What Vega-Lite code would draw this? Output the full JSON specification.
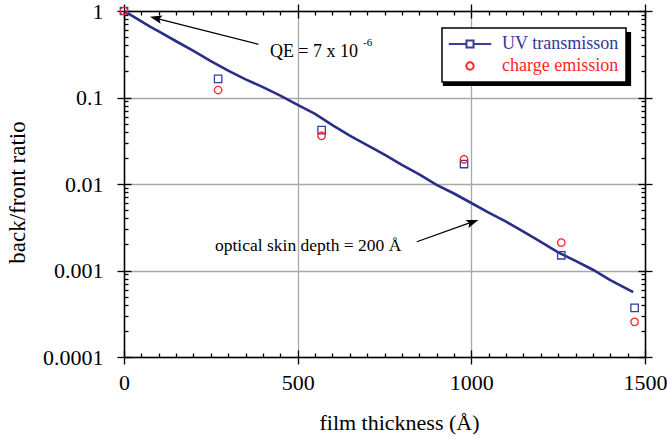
{
  "$schema": "https://vega.github.io/schema/vega-lite/v6.json",
  "width": 521,
  "height": 346,
  "autosize": {"type": "none"},
  "padding": {"left": 124, "top": 11, "right": 22, "bottom": 81},
  "background": "white",
  "config": {
    "font": "Liberation Serif",
    "view": {"stroke": null},
    "axis": {
      "labelFont": "Liberation Serif",
      "titleFont": "Liberation Serif",
      "domainColor": "black",
      "tickColor": "black",
      "labelColor": "black",
      "titleColor": "black",
      "titleFontWeight": "normal",
      "labelFlush": false,
      "labelOverlap": false,
      "domainWidth": 1.5,
      "tickWidth": 1.3,
      "grid": false
    },
    "legend": {"labelFont": "Liberation Serif", "strokeWidth": 1.5}
  },
  "datasets": {
    "curve": [
      {"thickness": 0, "ratio": 1},
      {"thickness": 25, "ratio": 0.871},
      {"thickness": 50, "ratio": 0.759},
      {"thickness": 75, "ratio": 0.661},
      {"thickness": 100, "ratio": 0.582},
      {"thickness": 150, "ratio": 0.447},
      {"thickness": 200, "ratio": 0.347},
      {"thickness": 250, "ratio": 0.263},
      {"thickness": 300, "ratio": 0.204},
      {"thickness": 350, "ratio": 0.162},
      {"thickness": 400, "ratio": 0.132},
      {"thickness": 450, "ratio": 0.105},
      {"thickness": 500, "ratio": 0.0822},
      {"thickness": 550, "ratio": 0.0646},
      {"thickness": 600, "ratio": 0.0479},
      {"thickness": 650, "ratio": 0.0363},
      {"thickness": 700, "ratio": 0.0282},
      {"thickness": 750, "ratio": 0.0219},
      {"thickness": 800, "ratio": 0.0166},
      {"thickness": 850, "ratio": 0.0129},
      {"thickness": 900, "ratio": 0.00977},
      {"thickness": 950, "ratio": 0.00776},
      {"thickness": 1000, "ratio": 0.00603},
      {"thickness": 1050, "ratio": 0.00468},
      {"thickness": 1100, "ratio": 0.00367},
      {"thickness": 1150, "ratio": 0.00282},
      {"thickness": 1200, "ratio": 0.00214},
      {"thickness": 1250, "ratio": 0.00162},
      {"thickness": 1300, "ratio": 0.00129},
      {"thickness": 1350, "ratio": 0.00102},
      {"thickness": 1400, "ratio": 0.000776},
      {"thickness": 1466, "ratio": 0.000562}
    ],
    "points": [
      {"thickness": 0, "ratio": 1, "series": "UV transmisson", "kind": "UV"},
      {"thickness": 271, "ratio": 0.164, "series": "UV transmisson", "kind": "UV"},
      {"thickness": 569, "ratio": 0.042, "series": "UV transmisson", "kind": "UV"},
      {"thickness": 979, "ratio": 0.017, "series": "UV transmisson", "kind": "UV"},
      {"thickness": 1259, "ratio": 0.0015, "series": "UV transmisson", "kind": "UV"},
      {"thickness": 1470, "ratio": 0.00037, "series": "UV transmisson", "kind": "UV"},
      {"thickness": 0, "ratio": 1, "series": "charge emission", "kind": "charge"},
      {"thickness": 271, "ratio": 0.122, "series": "charge emission", "kind": "charge"},
      {"thickness": 569, "ratio": 0.036, "series": "charge emission", "kind": "charge"},
      {"thickness": 979, "ratio": 0.0193, "series": "charge emission", "kind": "charge"},
      {"thickness": 1259, "ratio": 0.0021, "series": "charge emission", "kind": "charge"},
      {"thickness": 1470, "ratio": 0.000255, "series": "charge emission", "kind": "charge"}
    ]
  },
  "resolve": {"axis": {"x": "independent", "y": "independent"}},
  "layer": [
    {
      "data": {"values": [{}]},
      "mark": {"type": "rect", "color": "black"},
      "encoding": {
        "x": {"datum": 918, "type": "quantitative", "scale": {"type": "linear", "domain": [0, 1500], "nice": false, "zero": false}, "axis": null},
        "x2": {"datum": 1460},
        "y": {"datum": 0.572, "type": "quantitative", "scale": {"type": "log", "domain": [0.0001, 1], "nice": false}, "axis": null},
        "y2": {"datum": 0.136}
      }
    },
    {
      "data": {"name": "curve"},
      "mark": {"type": "line", "color": "#2b2e86", "strokeWidth": 2.6},
      "encoding": {
        "x": {
          "field": "thickness", "type": "quantitative",
          "scale": {"type": "linear", "domain": [0, 1500], "nice": false, "zero": false},
          "axis": {
            "orient": "bottom", "values": [0, 500, 1000, 1500], "format": "d",
            "tickSize": 7, "grid": true, "gridColor": "#a8a8a8", "gridWidth": 1.3, "gridOpacity": 1,
            "labelFont": "Liberation Serif", "labelFontSize": 22, "labelPadding": 8,
            "title": "film thickness (Å)", "titleFont": "Liberation Serif", "titleFontSize": 22, "titlePadding": 19, "titleX": 275
          }
        },
        "y": {
          "field": "ratio", "type": "quantitative",
          "scale": {"type": "log", "domain": [0.0001, 1], "nice": false},
          "axis": {
            "orient": "left", "values": [1, 0.1, 0.01, 0.001, 0.0001], "format": "~g",
            "tickSize": 7, "grid": true, "gridColor": "#a8a8a8", "gridWidth": 1.3, "gridOpacity": 1,
            "labelFont": "Liberation Serif", "labelFontSize": 22, "labelPadding": 14,
            "title": "back/front ratio", "titleFont": "Liberation Serif", "titleFontSize": 23, "titlePadding": 13, "titleY": 181
          }
        }
      }
    },
    {
      "data": {"name": "points"},
      "mark": {"type": "point", "filled": false, "strokeWidth": 1.3, "size": 55, "opacity": 1},
      "encoding": {
        "x": {
          "field": "thickness", "type": "quantitative",
          "scale": {"type": "linear", "domain": [0, 1500], "nice": false, "zero": false},
          "axis": {
            "orient": "bottom", "values": [50, 100, 150, 200, 250, 300, 350, 400, 450, 550, 600, 650, 700, 750, 800, 850, 900, 950, 1050, 1100, 1150, 1200, 1250, 1300, 1350, 1400, 1450],
            "tickSize": -4, "domain": false, "labels": false, "grid": false, "title": null
          }
        },
        "y": {
          "field": "ratio", "type": "quantitative",
          "scale": {"type": "log", "domain": [0.0001, 1], "nice": false},
          "axis": {
            "orient": "left", "values": [0.0002, 0.0003, 0.0004, 0.0005, 0.0006, 0.0007, 0.0008, 0.0009, 0.002, 0.003, 0.004, 0.005, 0.006, 0.007, 0.008, 0.009, 0.02, 0.03, 0.04, 0.05, 0.06, 0.07, 0.08, 0.09, 0.2, 0.3, 0.4, 0.5, 0.6, 0.7, 0.8, 0.9],
            "tickSize": -4, "domain": false, "labels": false, "grid": false, "title": null
          }
        },
        "color": {
          "field": "series", "type": "nominal",
          "scale": {"domain": ["UV transmisson", "charge emission"], "range": ["#3b3d9a", "#ff2525"]},
          "legend": {
            "orient": "none", "legendX": 318, "legendY": 17, "title": null,
            "fillColor": "white", "strokeColor": "black", "padding": 7, "rowPadding": 4,
            "symbolSize": 50, "symbolStrokeWidth": 2, "symbolFillColor": "transparent", "symbolOffset": 12,
            "symbolType": {"expr": "datum.value === 'UV transmisson' ? 'M-6,0H-1M1,0H6M-1,-1H1V1H-1Z' : 'M-1.05,0A1.05,1.05 0 1,0 1.05,0A1.05,1.05 0 1,0 -1.05,0Z'"},
            "labelColor": {"expr": "datum.value === 'UV transmisson' ? '#35359a' : '#ff2525'"},
            "labelFontSize": 18, "labelOffset": 23,
            "labelFont": "Liberation Serif"
          }
        },
        "shape": {
          "field": "kind", "type": "nominal",
          "scale": {"domain": ["UV", "charge"], "range": ["square", "circle"]},
          "legend": null
        }
      }
    },
    {
      "data": {"values": [{}]},
      "mark": {"type": "text", "align": "left", "baseline": "middle", "fontSize": 18, "font": "Liberation Serif", "color": "black"},
      "encoding": {
        "x": {
          "datum": 420, "type": "quantitative",
          "scale": {"type": "linear", "domain": [0, 1500], "nice": false, "zero": false},
          "axis": {
            "orient": "top", "values": [50, 100, 150, 200, 250, 300, 350, 400, 450, 550, 600, 650, 700, 750, 800, 850, 900, 950, 1050, 1100, 1150, 1200, 1250, 1300, 1350, 1400, 1450],
            "tickSize": -4, "domain": true, "labels": false, "grid": false, "title": null
          }
        },
        "y": {
          "datum": 0.34, "type": "quantitative",
          "scale": {"type": "log", "domain": [0.0001, 1], "nice": false},
          "axis": {
            "orient": "right", "values": [0.0002, 0.0003, 0.0004, 0.0005, 0.0006, 0.0007, 0.0008, 0.0009, 0.002, 0.003, 0.004, 0.005, 0.006, 0.007, 0.008, 0.009, 0.02, 0.03, 0.04, 0.05, 0.06, 0.07, 0.08, 0.09, 0.2, 0.3, 0.4, 0.5, 0.6, 0.7, 0.8, 0.9],
            "tickSize": -4, "domain": true, "labels": false, "grid": false, "title": null
          }
        },
        "text": {"value": "QE = 7 x 10"}
      }
    },
    {
      "data": {"values": [{}]},
      "mark": {"type": "text", "align": "left", "baseline": "middle", "fontSize": 11, "font": "Liberation Serif", "color": "black"},
      "encoding": {
        "x": {
          "datum": 688, "type": "quantitative",
          "scale": {"type": "linear", "domain": [0, 1500], "nice": false, "zero": false},
          "axis": {
            "orient": "top", "values": [0, 500, 1000, 1500], "offset": -7,
            "tickSize": 14, "domain": false, "labels": false, "grid": false, "title": null
          }
        },
        "y": {
          "datum": 0.427, "type": "quantitative",
          "scale": {"type": "log", "domain": [0.0001, 1], "nice": false},
          "axis": {
            "orient": "right", "values": [1, 0.1, 0.01, 0.001, 0.0001], "offset": -7,
            "tickSize": 14, "domain": false, "labels": false, "grid": false, "title": null
          }
        },
        "text": {"value": "-6"}
      }
    },
    {
      "data": {"values": [{}]},
      "mark": {"type": "text", "align": "left", "baseline": "middle", "fontSize": 17.5, "font": "Liberation Serif", "color": "black"},
      "encoding": {
        "x": {
          "datum": 262, "type": "quantitative",
          "scale": {"type": "linear", "domain": [0, 1500], "nice": false, "zero": false},
          "axis": {
            "orient": "bottom", "values": [0, 500, 1000, 1500],
            "tickSize": -7, "domain": false, "labels": false, "grid": false, "title": null
          }
        },
        "y": {
          "datum": 0.00192, "type": "quantitative",
          "scale": {"type": "log", "domain": [0.0001, 1], "nice": false},
          "axis": {
            "orient": "left", "values": [1, 0.1, 0.01, 0.001, 0.0001],
            "tickSize": -7, "domain": false, "labels": false, "grid": false, "title": null
          }
        },
        "text": {"value": "optical skin depth = 200 Å"}
      }
    },
    {
      "data": {"values": [{}]},
      "mark": {"type": "rule", "color": "black", "strokeWidth": 1.3},
      "encoding": {
        "x": {"datum": 387, "type": "quantitative", "scale": {"type": "linear", "domain": [0, 1500], "nice": false, "zero": false}, "axis": null},
        "x2": {"datum": 90},
        "y": {"datum": 0.412, "type": "quantitative", "scale": {"type": "log", "domain": [0.0001, 1], "nice": false}, "axis": null},
        "y2": {"datum": 0.828}
      }
    },
    {
      "data": {"values": [{}]},
      "mark": {"type": "rule", "color": "black", "strokeWidth": 1.3},
      "encoding": {
        "x": {"datum": 843, "type": "quantitative", "scale": {"type": "linear", "domain": [0, 1500], "nice": false, "zero": false}, "axis": null},
        "x2": {"datum": 1003},
        "y": {"datum": 0.00215, "type": "quantitative", "scale": {"type": "log", "domain": [0.0001, 1], "nice": false}, "axis": null},
        "y2": {"datum": 0.00364}
      }
    },
    {
      "data": {"values": [{}]},
      "mark": {"type": "point", "filled": true, "color": "black", "opacity": 1, "shape": "M0,-1L-0.7,1L0,0.6L0.7,1Z", "size": 144, "angle": 284},
      "encoding": {
        "x": {"datum": 91.6, "type": "quantitative", "scale": {"type": "linear", "domain": [0, 1500], "nice": false, "zero": false}, "axis": null},
        "y": {"datum": 0.826, "type": "quantitative", "scale": {"type": "log", "domain": [0.0001, 1], "nice": false}, "axis": null}
      }
    },
    {
      "data": {"values": [{}]},
      "mark": {"type": "point", "filled": true, "color": "black", "opacity": 1, "shape": "M0,-1L-0.7,1L0,0.6L0.7,1Z", "size": 144, "angle": 71},
      "encoding": {
        "x": {"datum": 1004, "type": "quantitative", "scale": {"type": "linear", "domain": [0, 1500], "nice": false, "zero": false}, "axis": null},
        "y": {"datum": 0.00364, "type": "quantitative", "scale": {"type": "log", "domain": [0.0001, 1], "nice": false}, "axis": null}
      }
    }
  ]
}
